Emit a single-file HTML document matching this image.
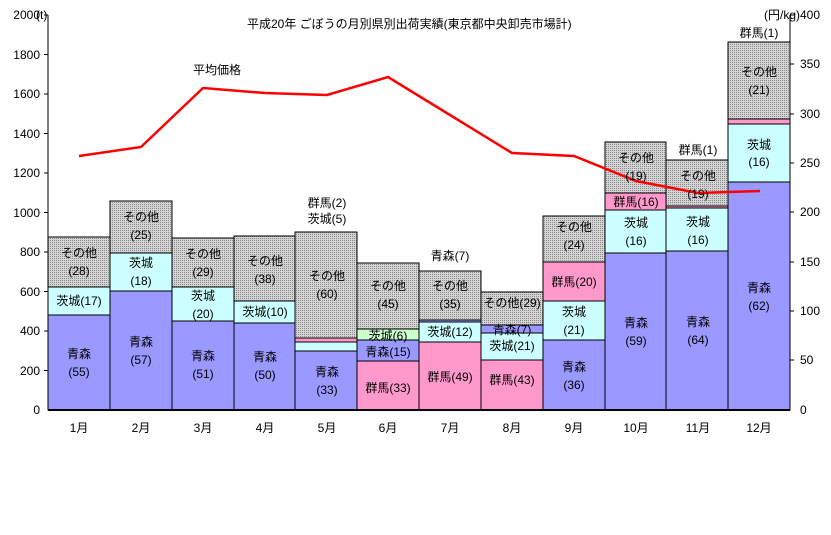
<!DOCTYPE html>
<html><head><meta charset="utf-8"><style>
body{margin:0;background:#fff}
text{font-family:"Liberation Sans","Noto Sans CJK JP",sans-serif;font-size:12px;fill:#000}
</style></head><body>
<svg width="831" height="530" xmlns="http://www.w3.org/2000/svg">
<defs>
<pattern id="g" width="2" height="2" patternUnits="userSpaceOnUse">
<rect width="2" height="2" fill="#d4d4d4"/><rect width="1" height="1" fill="#8a8a8a"/>
</pattern>
</defs>
<rect width="831" height="530" fill="#fff"/>
<g stroke="#000" stroke-width="1">
<!-- Jan -->
<rect x="48" y="315" width="62" height="95" fill="#9999ff"/>
<rect x="48" y="287" width="62" height="28" fill="#ccffff"/>
<rect x="48" y="237" width="62" height="50" fill="url(#g)"/>
<!-- Feb -->
<rect x="110" y="291" width="62" height="119" fill="#9999ff"/>
<rect x="110" y="253" width="62" height="38" fill="#ccffff"/>
<rect x="110" y="201" width="62" height="52" fill="url(#g)"/>
<!-- Mar -->
<rect x="172" y="321" width="62" height="89" fill="#9999ff"/>
<rect x="172" y="287" width="62" height="34" fill="#ccffff"/>
<rect x="172" y="238" width="62" height="49" fill="url(#g)"/>
<!-- Apr -->
<rect x="234" y="323" width="61" height="87" fill="#9999ff"/>
<rect x="234" y="301" width="61" height="22" fill="#ccffff"/>
<rect x="234" y="236" width="61" height="65" fill="url(#g)"/>
<!-- May -->
<rect x="295" y="351" width="62" height="59" fill="#9999ff"/>
<rect x="295" y="342" width="62" height="9" fill="#ccffff"/>
<rect x="295" y="338" width="62" height="4" fill="#ff99cc"/>
<rect x="295" y="232" width="62" height="106" fill="url(#g)"/>
<!-- Jun -->
<rect x="357" y="361" width="62" height="49" fill="#ff99cc"/>
<rect x="357" y="340" width="62" height="21" fill="#9999ff"/>
<rect x="357" y="329" width="62" height="11" fill="#ccffcc"/>
<rect x="357" y="263" width="62" height="66" fill="url(#g)"/>
<!-- Jul -->
<rect x="419" y="342" width="62" height="68" fill="#ff99cc"/>
<rect x="419" y="322" width="62" height="20" fill="#ccffff"/>
<rect x="419" y="320" width="62" height="2" fill="#9999ff"/>
<rect x="419" y="271" width="62" height="49" fill="url(#g)"/>
<!-- Aug -->
<rect x="481" y="360" width="62" height="50" fill="#ff99cc"/>
<rect x="481" y="333" width="62" height="27" fill="#ccffff"/>
<rect x="481" y="325" width="62" height="8" fill="#9999ff"/>
<rect x="481" y="292" width="62" height="33" fill="url(#g)"/>
<!-- Sep -->
<rect x="543" y="340" width="62" height="70" fill="#9999ff"/>
<rect x="543" y="301" width="62" height="39" fill="#ccffff"/>
<rect x="543" y="262" width="62" height="39" fill="#ff99cc"/>
<rect x="543" y="216" width="62" height="46" fill="url(#g)"/>
<!-- Oct -->
<rect x="605" y="253" width="61" height="157" fill="#9999ff"/>
<rect x="605" y="210" width="61" height="43" fill="#ccffff"/>
<rect x="605" y="193" width="61" height="17" fill="#ff99cc"/>
<rect x="605" y="142" width="61" height="51" fill="url(#g)"/>
<!-- Nov -->
<rect x="666" y="251" width="62" height="159" fill="#9999ff"/>
<rect x="666" y="208" width="62" height="43" fill="#ccffff"/>
<rect x="666" y="206" width="62" height="2" fill="#ff99cc"/>
<rect x="666" y="160" width="62" height="46" fill="url(#g)"/>
<!-- Dec -->
<rect x="728" y="182" width="62" height="228" fill="#9999ff"/>
<rect x="728" y="124" width="62" height="58" fill="#ccffff"/>
<rect x="728" y="119" width="62" height="5" fill="#ff99cc"/>
<rect x="728" y="42" width="62" height="77" fill="url(#g)"/>
</g>
<!-- axes -->
<g stroke="#000" stroke-width="1">
<line x1="48" y1="15" x2="48" y2="410"/>
<line x1="790" y1="15" x2="790" y2="410"/>
<line x1="48" y1="410" x2="790" y2="410" stroke-width="2"/>
<line x1="44" y1="15" x2="48" y2="15"/><line x1="44" y1="54.5" x2="48" y2="54.5"/><line x1="44" y1="94" x2="48" y2="94"/><line x1="44" y1="133.5" x2="48" y2="133.5"/><line x1="44" y1="173" x2="48" y2="173"/><line x1="44" y1="212.5" x2="48" y2="212.5"/><line x1="44" y1="252" x2="48" y2="252"/><line x1="44" y1="291.5" x2="48" y2="291.5"/><line x1="44" y1="331" x2="48" y2="331"/><line x1="44" y1="370.5" x2="48" y2="370.5"/>
<line x1="790" y1="15" x2="794" y2="15"/><line x1="790" y1="64" x2="794" y2="64"/><line x1="790" y1="114" x2="794" y2="114"/><line x1="790" y1="163" x2="794" y2="163"/><line x1="790" y1="212" x2="794" y2="212"/><line x1="790" y1="262" x2="794" y2="262"/><line x1="790" y1="311" x2="794" y2="311"/><line x1="790" y1="360" x2="794" y2="360"/>
</g>
<g text-anchor="end">
<text x="40" y="19">2000</text><text x="40" y="59">1800</text><text x="40" y="98">1600</text><text x="40" y="138">1400</text><text x="40" y="177">1200</text><text x="40" y="217">1000</text><text x="40" y="256">800</text><text x="40" y="296">600</text><text x="40" y="335">400</text><text x="40" y="375">200</text><text x="40" y="414">0</text>
</g>
<text x="36" y="19">(t)</text>
<g>
<text x="800" y="19">400</text><text x="800" y="68">350</text><text x="800" y="118">300</text><text x="800" y="167">250</text><text x="800" y="216">200</text><text x="800" y="266">150</text><text x="800" y="315">100</text><text x="800" y="364">50</text><text x="800" y="414">0</text>
</g>
<text x="764" y="19">(円/kg)</text>
<text x="247" y="28">平成20年 ごぼうの月別県別出荷実績(東京都中央卸売市場計)</text>
<text x="193" y="74">平均価格</text>
<polyline fill="none" stroke="#ff0000" stroke-width="2.5" points="79,156 141,147 203,88 265,93 327,95 388,77 450,115 512,153 574,156 636,181 698,193 760,191"/>
<g text-anchor="middle">
<text x="79" y="432">1月</text><text x="141" y="432">2月</text><text x="203" y="432">3月</text><text x="265" y="432">4月</text><text x="327" y="432">5月</text><text x="388" y="432">6月</text><text x="450" y="432">7月</text><text x="512" y="432">8月</text><text x="574" y="432">9月</text><text x="636" y="432">10月</text><text x="698" y="432">11月</text><text x="759" y="432">12月</text>
<!-- Jan -->
<text x="79" y="358">青森</text><text x="79" y="376">(55)</text>
<text x="79" y="305">茨城(17)</text>
<text x="79" y="257">その他</text><text x="79" y="275">(28)</text>
<!-- Feb -->
<text x="141" y="346">青森</text><text x="141" y="364">(57)</text>
<text x="141" y="267">茨城</text><text x="141" y="285">(18)</text>
<text x="141" y="221">その他</text><text x="141" y="239">(25)</text>
<!-- Mar -->
<text x="203" y="360">青森</text><text x="203" y="378">(51)</text>
<text x="203" y="300">茨城</text><text x="203" y="318">(20)</text>
<text x="203" y="258">その他</text><text x="203" y="276">(29)</text>
<!-- Apr -->
<text x="265" y="361">青森</text><text x="265" y="379">(50)</text>
<text x="265" y="316">茨城(10)</text>
<text x="265" y="265">その他</text><text x="265" y="283">(38)</text>
<!-- May -->
<text x="327" y="376">青森</text><text x="327" y="394">(33)</text>
<text x="327" y="280">その他</text><text x="327" y="298">(60)</text>
<text x="327" y="207">群馬(2)</text><text x="327" y="223">茨城(5)</text>
<!-- Jun -->
<text x="388" y="392">群馬(33)</text>
<text x="388" y="356">青森(15)</text>
<text x="388" y="340">茨城(6)</text>
<text x="388" y="290">その他</text><text x="388" y="308">(45)</text>
<!-- Jul -->
<text x="450" y="381">群馬(49)</text>
<text x="450" y="336">茨城(12)</text>
<text x="450" y="290">その他</text><text x="450" y="308">(35)</text>
<text x="450" y="260">青森(7)</text>
<!-- Aug -->
<text x="512" y="384">群馬(43)</text>
<text x="512" y="350">茨城(21)</text>
<text x="512" y="334">青森(7)</text>
<text x="512" y="307">その他(29)</text>
<!-- Sep -->
<text x="574" y="371">青森</text><text x="574" y="389">(36)</text>
<text x="574" y="316">茨城</text><text x="574" y="334">(21)</text>
<text x="574" y="286">群馬(20)</text>
<text x="574" y="231">その他</text><text x="574" y="249">(24)</text>
<!-- Oct -->
<text x="636" y="327">青森</text><text x="636" y="345">(59)</text>
<text x="636" y="227">茨城</text><text x="636" y="245">(16)</text>
<text x="636" y="206">群馬(16)</text>
<text x="636" y="162">その他</text><text x="636" y="180">(19)</text>
<!-- Nov -->
<text x="698" y="326">青森</text><text x="698" y="344">(64)</text>
<text x="698" y="226">茨城</text><text x="698" y="244">(16)</text>
<text x="698" y="180">その他</text><text x="698" y="198">(19)</text>
<text x="698" y="154">群馬(1)</text>
<!-- Dec -->
<text x="759" y="292">青森</text><text x="759" y="310">(62)</text>
<text x="759" y="149">茨城</text><text x="759" y="166">(16)</text>
<text x="759" y="76">その他</text><text x="759" y="94">(21)</text>
<text x="759" y="37">群馬(1)</text>
</g>
</svg>
</body></html>
